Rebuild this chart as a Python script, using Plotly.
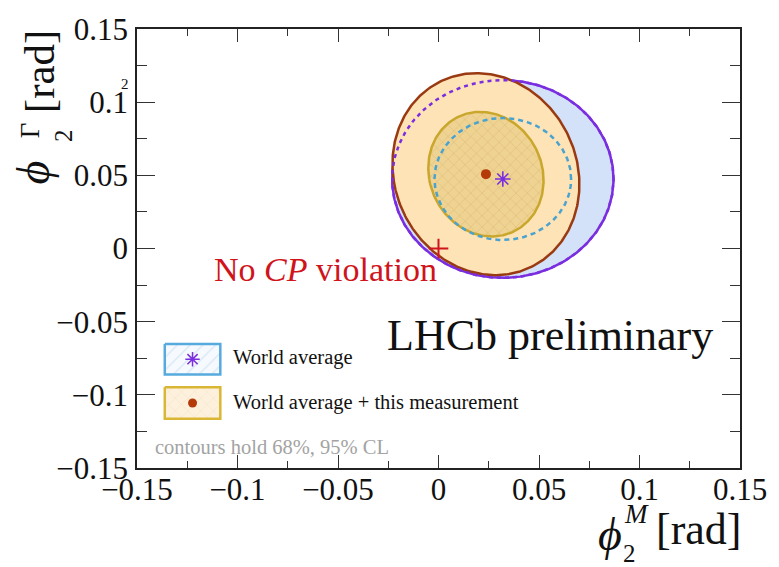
import numpy as np
import plotly.graph_objects as go

# ---------------- data ----------------
# World average: central value, uncertainties, correlation
wa_center = [0.032, 0.0475]        # (phi2_M, phi2_Gamma) [rad]
wa_sigma = [0.0225, 0.0276]
wa_rho = 0.0
# World average + this measurement
comb_center = [0.0236, 0.0508]
comb_sigma = [0.0190, 0.0282]
comb_rho = -0.10
# No CP violation point
no_cp_point = [0.0, 0.0]
# contour levels (chi2 quantiles, 2 dof)
cl_levels = {"68%": 2.279, "95%": 5.991}

x_ticks = [-0.15, -0.1, -0.05, 0, 0.05, 0.1, 0.15]
y_ticks = [-0.15, -0.1, -0.05, 0, 0.05, 0.1, 0.15]
x_tick_text = ["\u22120.15", "\u22120.1", "\u22120.05", "0", "0.05", "0.1", "0.15"]
y_tick_text = ["\u22120.15", "\u22120.1", "\u22120.05", "0", "0.05", "0.1", "0.15"]


def contour(center, sigma, rho, q, n=361):
    cov = np.array([[sigma[0] ** 2, rho * sigma[0] * sigma[1]],
                    [rho * sigma[0] * sigma[1], sigma[1] ** 2]])
    vals, vecs = np.linalg.eigh(cov)
    t = np.linspace(0, 2 * np.pi, n)
    circ = np.vstack([np.cos(t), np.sin(t)])
    pts = vecs @ (np.sqrt(vals * q)[:, None] * circ)
    return center[0] + pts[0], center[1] + pts[1]


# ---------------- layout constants ----------------
W, H = 779, 567
ML, MR, MT, MB = 137, 34, 22, 99
PW, PH = W - ML - MR, H - MT - MB


def px(x):
    return (x - ML) / PW


def py(y):
    return (H - MB - y) / PH


SERIF = "Liberation Serif, Times New Roman, serif"
PURPLE = "#7a2ee0"
BROWN = "#9a3a12"
BLUE_FILL = "#d3e2f8"
ORANGE_FILL = "#fde3b6"
GOLD = "#c9a62c"
CYAN = "#4aa3cf"
RED = "#d0141c"
DOT = "#b53a0a"
INK = "#111111"

fig = go.Figure()

wa95 = contour(wa_center, wa_sigma, wa_rho, cl_levels["95%"])
wa68 = contour(wa_center, wa_sigma, wa_rho, cl_levels["68%"])
c95 = contour(comb_center, comb_sigma, comb_rho, cl_levels["95%"])
c68 = contour(comb_center, comb_sigma, comb_rho, cl_levels["68%"])

# World average 95% filled
fig.add_trace(go.Scatter(x=wa95[0], y=wa95[1], mode="lines", fill="toself",
                         fillcolor=BLUE_FILL, line=dict(color=PURPLE, width=2.5),
                         hoverinfo="skip", showlegend=False))
# Combined 95% filled
fig.add_trace(go.Scatter(x=c95[0], y=c95[1], mode="lines", fill="toself",
                         fillcolor=ORANGE_FILL, line=dict(color=BROWN, width=2.5),
                         hoverinfo="skip", showlegend=False))
# World average 95% outline (dashed, on top)
fig.add_trace(go.Scatter(x=wa95[0], y=wa95[1], mode="lines",
                         line=dict(color=PURPLE, width=2.5, dash="4px,4px"),
                         hoverinfo="skip", showlegend=False))
# Combined 68% hatched
fig.add_trace(go.Scatter(x=c68[0], y=c68[1], mode="lines", fill="toself",
                         fillcolor="#eccf8e",
                         fillpattern=dict(shape="x", bgcolor="#efd393", fgcolor="#c99c52",
                                          size=8, solidity=0.12),
                         line=dict(color=GOLD, width=2.5),
                         hoverinfo="skip", showlegend=False))
# World average 68% outline dashed
fig.add_trace(go.Scatter(x=wa68[0], y=wa68[1], mode="lines",
                         line=dict(color=CYAN, width=2.5, dash="5px,4px"),
                         hoverinfo="skip", showlegend=False))
# No CP violation marker
fig.add_trace(go.Scatter(x=[no_cp_point[0]], y=[no_cp_point[1]], mode="markers",
                         marker=dict(symbol="cross-thin", size=14, color=RED,
                                     line=dict(color=RED, width=2)),
                         hoverinfo="skip", showlegend=False))
# central values
fig.add_trace(go.Scatter(x=[comb_center[0]], y=[comb_center[1]], mode="markers",
                         marker=dict(symbol="circle", size=10, color=DOT),
                         hoverinfo="skip", showlegend=False))
fig.add_trace(go.Scatter(x=[wa_center[0]], y=[wa_center[1]], mode="markers",
                         marker=dict(symbol="asterisk-open", size=13, color=PURPLE,
                                     line=dict(color=PURPLE, width=1.6)),
                         hoverinfo="skip", showlegend=False))

# ---------------- legend (drawn on a hidden overlay axis in paper units) ----------------
leg_boxes = [
    dict(x0=165, x1=221, y0=342, y1=373, line="#57aade", bg="#f4f8fd",
         pat=dict(shape="/", bgcolor="#f6f9fd", fgcolor="#b9d7ef", size=9, solidity=0.15),
         sym="asterisk-open", mcol=PURPLE, msize=12,
         text="World average", ty=356),
    dict(x0=165, x1=221, y0=386, y1=418, line="#d9b634", bg="#fdf1df",
         pat=dict(shape="x", bgcolor="#fdf1de", fgcolor="#ebcfa4", size=9, solidity=0.12),
         sym="circle", mcol=DOT, msize=9,
         text="World average + this measurement", ty=401),
]
for b in leg_boxes:
    bx = [px(b["x0"]), px(b["x1"]), px(b["x1"]), px(b["x0"]), px(b["x0"])]
    by = [py(b["y0"]), py(b["y0"]), py(b["y1"]), py(b["y1"]), py(b["y0"])]
    fig.add_trace(go.Scatter(x=bx, y=by, xaxis="x2", yaxis="y2", mode="lines",
                             fill="toself", fillcolor=b["bg"], fillpattern=b["pat"],
                             line=dict(color=b["line"], width=2.5),
                             hoverinfo="skip", showlegend=False))
    cx, cy = px((b["x0"] + b["x1"]) / 2), py((b["y0"] + b["y1"]) / 2)
    mk = dict(symbol=b["sym"], size=b["msize"], color=b["mcol"],
              line=dict(color=b["mcol"], width=1.5 if b["sym"] != "circle" else 0))
    fig.add_trace(go.Scatter(x=[cx], y=[cy], xaxis="x2", yaxis="y2", mode="markers",
                             marker=mk, hoverinfo="skip", showlegend=False))


def ann(x, y, text, size, color=INK, xanchor="center", yanchor="middle", angle=0):
    return dict(x=px(x), y=py(y), xref="paper", yref="paper", text=text,
                showarrow=False, xanchor=xanchor, yanchor=yanchor, textangle=angle,
                font=dict(family=SERIF, size=size, color=color))


annotations = []
for b in leg_boxes:
    annotations.append(ann(232, b["ty"], b["text"], 20.5, xanchor="left"))

annotations += [
    ann(153, 447, "contours hold 68%, 95% CL", 20.5, color="#a3a3a3", xanchor="left"),
    ann(720, 333, "LHCb preliminary", 44, xanchor="right"),
    ann(442, 266, "No <i>CP</i> violation", 34, color=RED, xanchor="right"),
    # x-axis title (ROOT style, stacked super/subscripts)
    ann(614, 536, "<i>\u03d5</i>", 46),
    ann(641, 515, "<i>M</i>", 27),
    ann(634, 555, "2", 25),
    ann(704, 530, "[rad]", 44),
    # y-axis title (rotated)
    ann(33, 168, "<i>\u03d5</i>", 46, angle=-90),
    ann(29, 125, "\u0393", 27, angle=-90),
    ann(63, 130, "2", 25, angle=-90),
    ann(39, 65, "[rad]", 43, angle=-90),
    # stray small "2" near the 0.1 label in the original
    ann(125, 78, "2", 15),
]

axis_common = dict(showgrid=False, zeroline=False, showline=True, linecolor="#222222",
                   linewidth=1.5, mirror="allticks", ticks="inside", tickcolor="#333333",
                   tickwidth=1.2, tickfont=dict(family=SERIF, size=31, color=INK))

fig.update_layout(
    width=W, height=H,
    margin=dict(l=ML, r=MR, t=MT, b=MB, pad=0),
    paper_bgcolor="white", plot_bgcolor="white",
    xaxis=dict(range=[-0.15, 0.15], tickvals=x_ticks, ticktext=x_tick_text, ticklen=13,
               ticklabelstandoff=-7,
               minor=dict(dtick=0.025, ticks="inside", ticklen=7, tickcolor="#333333"),
               **axis_common),
    yaxis=dict(range=[-0.15, 0.15], tickvals=y_ticks, ticktext=y_tick_text, ticklen=18,
               ticklabelstandoff=1,
               minor=dict(dtick=0.025, ticks="inside", ticklen=10, tickcolor="#333333"),
               **axis_common),
    xaxis2=dict(range=[0, 1], overlaying="x", visible=False, fixedrange=True),
    yaxis2=dict(range=[0, 1], overlaying="y", visible=False, fixedrange=True),
    annotations=annotations,
    showlegend=False,
)

fig.write_html("out.html",
               config={"displayModeBar": False},
               post_script="document.body.style.margin='0px';"
                           "document.body.style.overflow='hidden';")
